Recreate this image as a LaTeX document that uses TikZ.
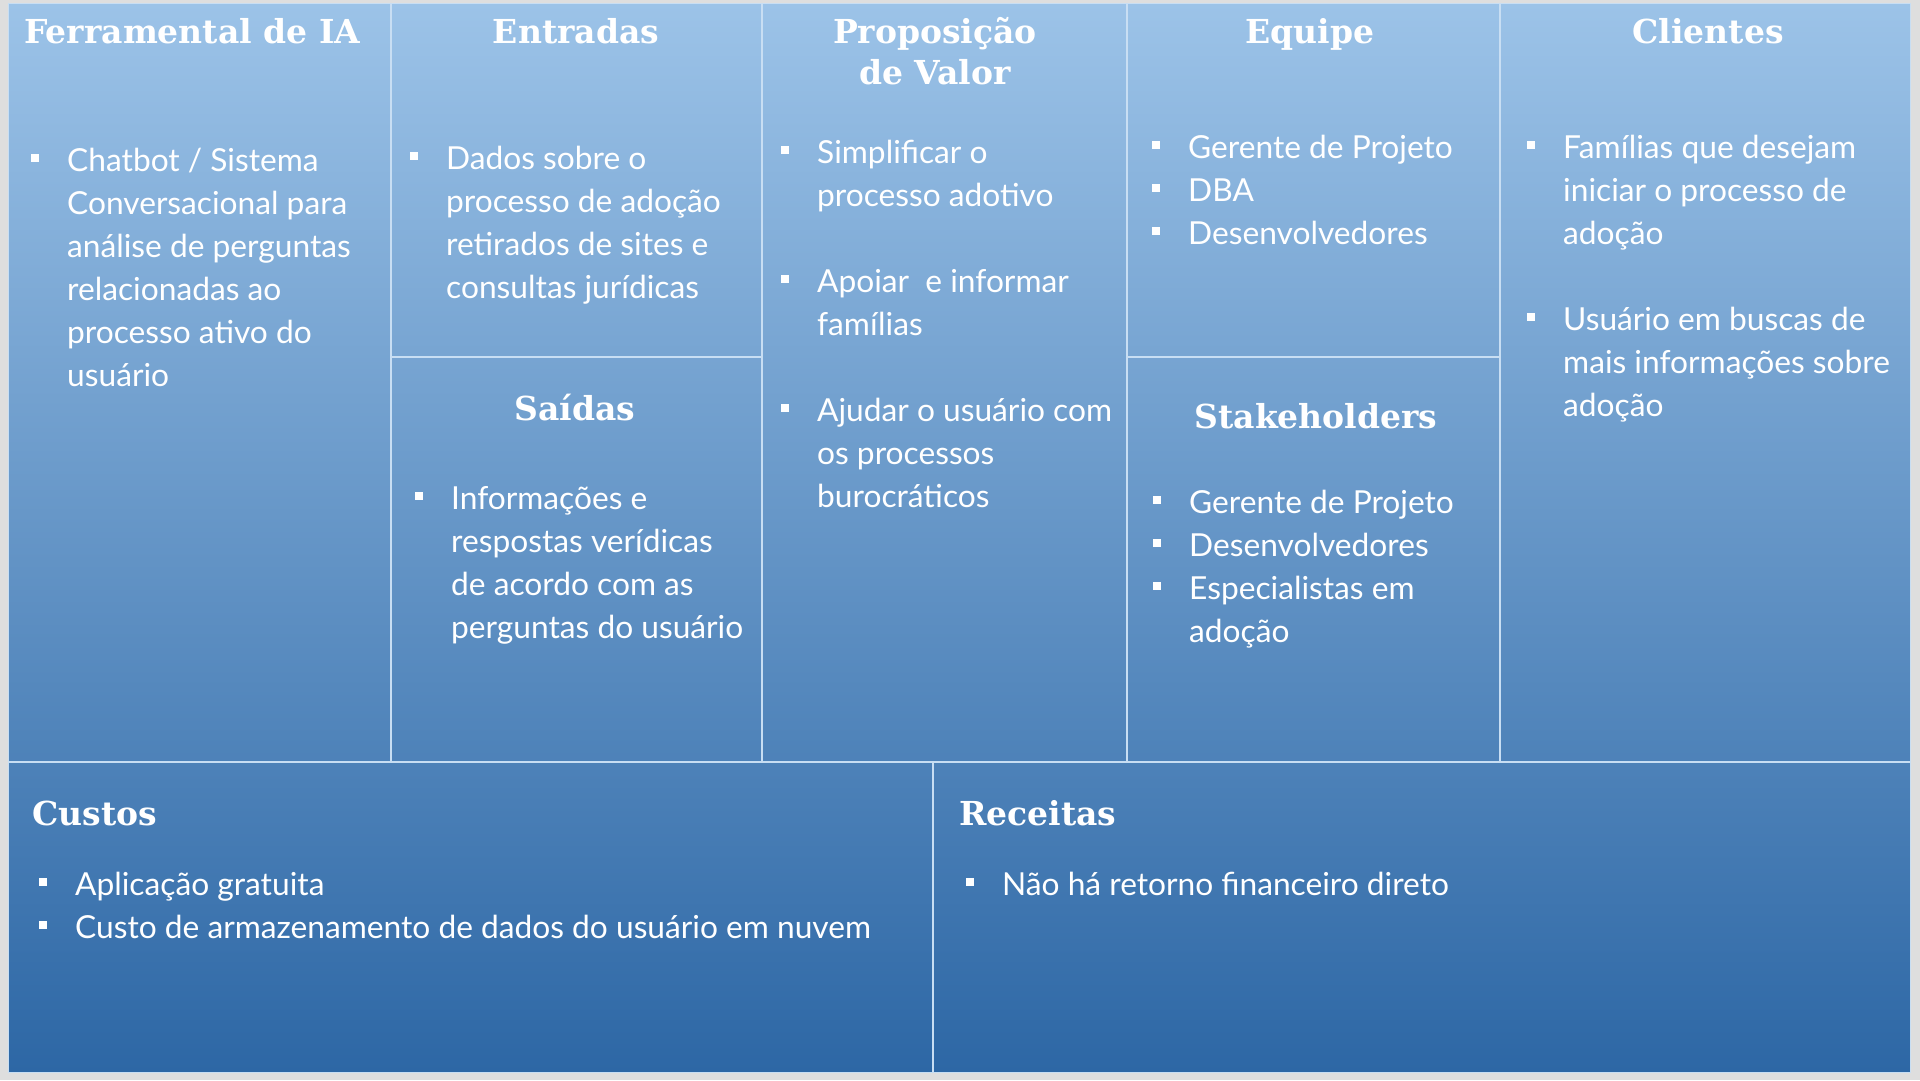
\documentclass[tikz,border=0pt]{standalone}
\usepackage{fontspec}
\setmainfont{Lato}
\newfontfamily\headfont{DejaVu Serif}
\newfontfamily\bodyfont{Lato}
\definecolor{cTop}{RGB}{156,195,232}
\definecolor{cMid}{RGB}{90,149,210}
\definecolor{cBot}{RGB}{45,103,165}
\definecolor{divc}{RGB}{200,222,243}
\definecolor{marginc}{RGB}{222,222,222}
\newcommand{\sqb}{\raisebox{9pt}{\rule{8pt}{8pt}}}
\newcommand{\blist}[1]{\begin{tabular}[t]{@{}p{36pt}@{}l@{}}#1\end{tabular}}
\tikzset{
  head/.style={text=white, font=\headfont\bfseries\fontsize{33}{41}\selectfont, inner sep=0pt, align=center},
  body/.style={text=white, font=\bodyfont\fontsize{31.7}{43}\selectfont, inner sep=0pt, anchor=base west},
  divider/.style={draw=divc, line width=2.2pt},
}
\begin{document}
\begin{tikzpicture}[x=1pt,y=-1pt]
\useasboundingbox (0,0) rectangle (1920,1080);
\fill[marginc] (0,0) rectangle (1920,1080);
\shade[top color=cTop, middle color=cMid, bottom color=cBot] (8,3) rectangle (1910,1072);
\draw[divc, line width=1pt] (8,3) rectangle (1910,1072);

% divider coordinates
\coordinate (v1t) at (391,3);   \coordinate (v1b) at (391,762);
\coordinate (v2t) at (762,3);   \coordinate (v2b) at (762,762);
\coordinate (v3t) at (1127,3);  \coordinate (v3b) at (1127,762);
\coordinate (v4t) at (1500,3);  \coordinate (v4b) at (1500,762);
\coordinate (hl) at (8,762);    \coordinate (hr) at (1910,762);
\coordinate (v5t) at (933,762); \coordinate (v5b) at (933,1072);
\coordinate (h2l) at (391,357); \coordinate (h2r) at (762,357);
\coordinate (h3l) at (1127,357);\coordinate (h3r) at (1500,357);

\draw[divider] (v1t) -- (v1b);
\draw[divider] (v2t) -- (v2b);
\draw[divider] (v3t) -- (v3b);
\draw[divider] (v4t) -- (v4b);
\draw[divider] (hl) -- (hr);
\draw[divider] (v5t) -- (v5b);
\draw[divider] (h2l) -- (h2r);
\draw[divider] (h3l) -- (h3r);

% headings
\node[head, anchor=base west] (hFerr) at (24,43) {Ferramental de IA};
\node[head, anchor=base] (hEntr) at (576,43) {Entradas};
\node[head, anchor=base] (hProp) at (935,84) {Proposição\\de Valor};
\node[head, anchor=base] (hEquip) at (1310,43) {Equipe};
\node[head, anchor=base] (hCli) at (1708,43) {Clientes};
\node[head, anchor=base] (hSai) at (575,420) {Saídas};
\node[head, anchor=base] (hStak) at (1316,428) {Stakeholders};
\node[head, anchor=base west] (hCus) at (32,825) {Custos};
\node[head, anchor=base west] (hRec) at (959,825) {Receitas};

% lists
\node[body] (lFerr) at (31,171) {\blist{\sqb & Chatbot / Sistema\\ & Conversacional para\\ & análise de perguntas\\ & relacionadas ao\\ & processo ativo do\\ & usuário}};
\node[body] (lEntr) at (410,169) {\blist{\sqb & Dados sobre o\\ & processo de adoção\\ & retirados de sites e\\ & consultas jurídicas}};
\node[body] (lSai) at (415,509) {\blist{\sqb & Informações e\\ & respostas verídicas\\ & de acordo com as\\ & perguntas do usuário}};
\node[body] (lProp) at (781,163) {\blist{\sqb & Simplificar o\\ & processo adotivo\\ & \\ \sqb & Apoiar\ \ e informar\\ & famílias\\ & \\ \sqb & Ajudar o usuário com\\ & os processos\\ & burocráticos}};
\node[body] (lEquip) at (1152,158) {\blist{\sqb & Gerente de Projeto\\ \sqb & DBA\\ \sqb & Desenvolvedores}};
\node[body] (lStak) at (1153,513) {\blist{\sqb & Gerente de Projeto\\ \sqb & Desenvolvedores\\ \sqb & Especialistas em\\ & adoção}};
\node[body] (lCli) at (1527,158) {\blist{\sqb & Famílias que desejam\\ & iniciar o processo de\\ & adoção\\ & \\ \sqb & Usuário em buscas de\\ & mais informações sobre\\ & adoção}};
\node[body] (lCus) at (39,895) {\blist{\sqb & Aplicação gratuita\\ \sqb & Custo de armazenamento de dados do usuário em nuvem}};
\node[body] (lRec) at (966,895) {\blist{\sqb & Não há retorno financeiro direto}};
\end{tikzpicture}
\end{document}
